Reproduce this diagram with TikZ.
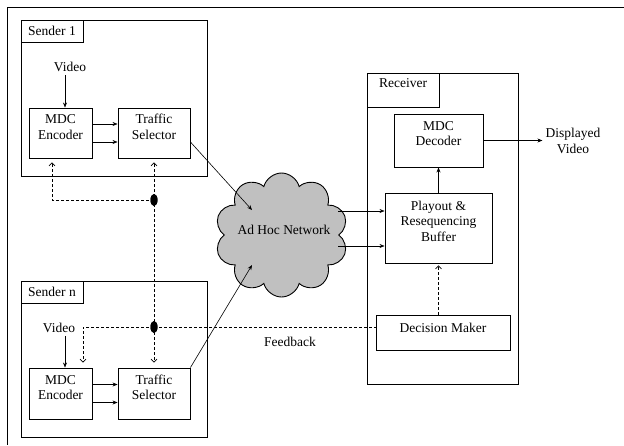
\documentclass[tikz,border=0pt]{standalone}
\usepackage{fontspec}
\setmainfont{Liberation Serif}
\usetikzlibrary{arrows.meta,shapes.symbols,shapes.geometric}
\definecolor{cloudgray}{RGB}{192,192,192}
\begin{document}
\begin{tikzpicture}[x=1pt,y=-1pt,
  box/.style={draw,line width=0.9pt,inner sep=0pt},
  txt/.style={font=\fontsize{13.5}{15.5}\selectfont,align=center,inner sep=0pt},
  arr/.style={-{Stealth[length=5pt,width=4pt]},line width=0.6pt},
  fb/.style={-{Straight Barb[length=3pt,width=6pt]},line width=0.6pt,dash pattern=on 3pt off 2pt},
  fbl/.style={line width=0.6pt,dash pattern=on 3pt off 2pt},
  blob/.style={ellipse,fill=black,minimum width=7pt,minimum height=12pt,inner sep=0pt}
]
\useasboundingbox (0,0) rectangle (624,445);
\draw[line width=1pt] (624,7) -- (7,7) -- (7,445);

% ---------- Sender 1 ----------
\node[box,minimum width=186,minimum height=156] (s1) at (114,98) {};
\node[box,txt,minimum width=62,minimum height=22] (s1l) at (52,31) {Sender 1};
\node[box,minimum width=63,minimum height=50] (enc1) at (60.5,133) {};
\node[txt] (enc1t) at ([yshift=6]enc1.center) {MDC\\Encoder};
\node[box,minimum width=72,minimum height=50] (ts1) at (154,133) {};
\node[txt] (ts1t) at ([yshift=6]ts1.center) {Traffic\\Selector};
\node[txt] (v1) at (70,67) {Video};
\coordinate (vx1) at (65,0);
\draw[arr] (v1.south -| vx1) ++(0,3) -- (enc1.north -| vx1);
\draw[arr] ([yshift=9]enc1.east) -- ([yshift=9]ts1.west);
\draw[arr] ([yshift=-9]enc1.east) -- ([yshift=-9]ts1.west);

% ---------- Sender n ----------
\node[box,minimum width=186,minimum height=156] (sn) at (114,359) {};
\node[box,txt,minimum width=62,minimum height=22] (snl) at (52,292) {Sender n};
\node[box,minimum width=63,minimum height=51] (encn) at (60.5,393.5) {};
\node[txt] (encnt) at ([yshift=6]encn.center) {MDC\\Encoder};
\node[box,minimum width=72,minimum height=51] (tsn) at (154,393.5) {};
\node[txt] (tsnt) at ([yshift=6]tsn.center) {Traffic\\Selector};
\node[txt] (vn) at (59,328) {Video};
\coordinate (vxn) at (65,0);
\draw[arr] (vn.south -| vxn) ++(0,3) -- (encn.north -| vxn);
\draw[arr] ([yshift=9]encn.east) -- ([yshift=9]tsn.west);
\draw[arr] ([yshift=-9]encn.east) -- ([yshift=-9]tsn.west);

% ---------- Cloud ----------
\node[cloud,draw,fill=cloudgray,line width=0.9pt,cloud puffs=10,cloud puff arc=150,
      minimum width=133,minimum height=124,inner sep=0pt] (net) at (281.5,235) {};
\node[txt] (nett) at (284,230) {Ad Hoc Network};
\coordinate (cin1) at (252,210);
\coordinate (cin2) at (252,265);
\coordinate (cout1) at (338,211);
\coordinate (cout2) at (338,246);
\draw[arr] ([yshift=-9]ts1.east) -- (cin1);
\draw[arr] (tsn.north east) -- (cin2);

% ---------- Receiver ----------
\node[box,minimum width=151,minimum height=311] (rx) at (442.5,228.5) {};
\node[box,minimum width=72,minimum height=34] (rxl) at (403,90) {};
\node[txt] (rxlt) at ([yshift=7]rxl.center) {Receiver};
\node[box,minimum width=89,minimum height=53] (dec) at (438.5,140.5) {};
\node[txt] (dect) at ([yshift=7]dec.center) {MDC\\Decoder};
\node[box,minimum width=107,minimum height=70] (buf) at (438.5,228) {};
\node[txt] (buft) at ([yshift=7]buf.center) {Playout \&\\Resequencing\\Buffer};
\node[box,minimum width=134,minimum height=35] (dm) at (443,332.5) {};
\node[txt] (dmt) at ([yshift=5]dm.center) {Decision Maker};
\node[txt] (dv) at (573,141) {Displayed\\Video};
\draw[arr] (cout1) -- (buf.west |- cout1);
\draw[arr] (cout2) -- (buf.west |- cout2);
\draw[arr] (buf.north) -- (dec.south);
\draw[arr] (dec.east) -- ([xshift=-3]dv.west |- dec.east);
\draw[fb,shorten >=2pt] (dm.north -| buf.south) -- (buf.south);

% ---------- Feedback ----------
\node[blob] (d1) at (154,200) {};
\node[blob] (d2) at (154,327) {};
\coordinate (fx1) at (52,0);
\coordinate (fxn) at (83,0);
\draw[fb,shorten >=4pt] (d1.center) -| (enc1.south -| fx1);
\draw[fb,shorten >=4pt] (d2.center) -- (ts1.south);
\draw[fb,shorten >=5pt] (d2.center) -- (tsn.north);
\draw[fb,shorten >=5pt] (d2.center) -| (encn.north -| fxn);
\draw[fbl] (d2.center) -- (dm.west |- d2);
\node[blob] at (d1) {};
\node[blob] at (d2) {};
\node[txt] (fbt) at (290,342) {Feedback};
\end{tikzpicture}
\end{document}
